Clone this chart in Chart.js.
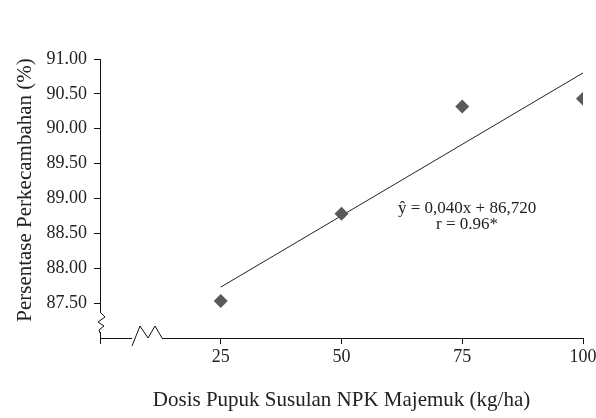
<!DOCTYPE html>
<html>
<head>
  <title>Persentase Perkecambahan</title>
  <script src="https://cdn.jsdelivr.net/npm/chart.js@4.4.1/dist/chart.umd.min.js"></script>
  <style>
    body { margin: 0; background: #fff; }
  </style>
</head>
<body>

  <canvas id="germChart" width="596" height="418"></canvas>

  <script>
    // values
    const doses = [25, 50, 75, 100];
    const germination = [87.53, 88.78, 90.32, 90.43];
    const trendX = [25, 100];
    const trendY = [87.73, 90.80];
    const xTicks = [0, 25, 50, 75, 100];
    const yTicks = [87.5, 88, 88.5, 89, 89.5, 90, 90.5, 91];
    const eqLines = ['\u0177 = 0,040x + 86,720', 'r = 0.96*'];
    const yTitle = 'Persentase Perkecambahan (%)';

    const serif = '"Liberation Serif", "Times New Roman", serif';
    Chart.defaults.font.family = serif;
    Chart.defaults.color = '#222';

    // axis breaks, y title and regression text
    const extras = {
      id: 'extras',
      afterDraw(chart) {
        const ctx = chart.ctx;
        const xs = chart.scales.x, ys = chart.scales.y;
        const y0 = ys.bottom, x0 = xs.left;
        ctx.save();
        ctx.strokeStyle = '#111';
        ctx.lineWidth = 1;
        ctx.fillStyle = '#fff';
        // gap + zigzag on x axis
        ctx.fillRect(x0 + 32, y0 - 2, 30, 4);
        ctx.beginPath();
        ctx.moveTo(x0 + 32, y0 + 8);
        ctx.lineTo(x0 + 40, y0 - 12);
        ctx.lineTo(x0 + 48, y0);
        ctx.lineTo(x0 + 55, y0 - 12);
        ctx.lineTo(x0 + 62, y0);
        ctx.stroke();
        // squiggle on y axis
        ctx.fillRect(x0 - 2, y0 - 26, 4, 20);
        ctx.beginPath();
        ctx.moveTo(x0, y0 - 26);
        ctx.lineTo(x0 + 5, y0 - 21);
        ctx.lineTo(x0 - 2, y0 - 16);
        ctx.lineTo(x0 + 4, y0 - 12);
        ctx.lineTo(x0 - 1, y0 - 8);
        ctx.lineTo(x0, y0 - 5);
        ctx.stroke();
        ctx.fillStyle = '#222';
        ctx.textAlign = 'center';
        ctx.textBaseline = 'middle';
        // y axis title
        ctx.save();
        ctx.translate(25, 190);
        ctx.rotate(-Math.PI / 2);
        ctx.font = '21px ' + serif;
        ctx.fillText(yTitle, 0, 0);
        ctx.restore();
        // regression equation
        ctx.font = '17px ' + serif;
        const tx = xs.getPixelForValue(76), ty = ys.getPixelForValue(88.85);
        ctx.fillText(eqLines[0], tx, ty);
        ctx.fillText(eqLines[1], tx, ty + 16);
        ctx.restore();
      }
    };

    new Chart(document.getElementById('germChart'), {
      type: 'scatter',
      data: {
        datasets: [{
          label: 'Data',
          data: doses.map((d, i) => ({ x: d, y: germination[i] })),
          pointStyle: 'rectRot',
          pointRadius: 7,
          backgroundColor: '#595959',
          borderColor: '#595959',
          borderWidth: 0
        }, {
          label: 'Regresi',
          type: 'line',
          data: trendX.map((d, i) => ({ x: d, y: trendY[i] })),
          borderColor: '#222',
          borderWidth: 1,
          pointRadius: 0,
          fill: false
        }]
      },
      options: {
        responsive: false,
        animation: false,
        layout: { padding: { top: 59, right: 13, left: 0, bottom: 0 } },
        plugins: { legend: { display: false }, tooltip: { enabled: false } },
        scales: {
          x: {
            type: 'linear',
            min: 0,
            max: 100,
            afterBuildTicks: s => { s.ticks = xTicks.map(v => ({ value: v })); },
            afterFit: s => { s.height = 80; s.paddingRight = 0; s.paddingLeft = 0; },
            ticks: {
              font: { size: 18 },
              padding: 2,
              maxRotation: 0,
              callback: v => (v === 0 ? '' : String(v))
            },
            grid: { drawOnChartArea: false, tickLength: 6, color: '#111' },
            border: { color: '#111', width: 1 },
            title: {
              display: true,
              text: 'Dosis Pupuk Susulan NPK Majemuk (kg/ha)',
              font: { size: 21 },
              padding: { top: 0, bottom: 5 }
            }
          },
          y: {
            min: 87.0,
            max: 91.0,
            afterBuildTicks: s => { s.ticks = yTicks.map(v => ({ value: v })); },
            afterFit: s => { s.width = 100; },
            ticks: {
              font: { size: 18 },
              padding: 7,
              callback: v => Number(v).toFixed(2)
            },
            grid: { drawOnChartArea: false, tickLength: 6, color: '#111' },
            border: { color: '#111', width: 1 }
          }
        }
      },
      plugins: [extras]
    });
  </script>

</body>
</html>
